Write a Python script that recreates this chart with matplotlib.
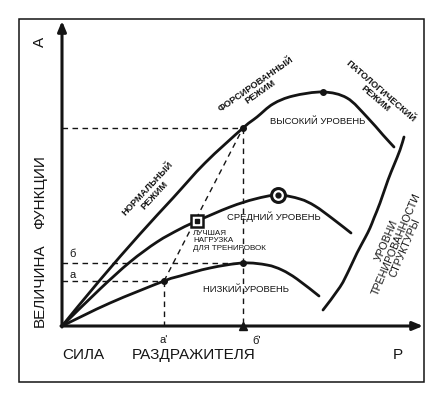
#!/usr/bin/env python3
"""
Схема: величина функции в зависимости от силы раздражителя
для трёх уровней тренированности структуры
"""

import matplotlib.pyplot as plt
from matplotlib.patches import Rectangle, PathPatch
from matplotlib.path import Path

# --- Данные (условные единицы, начало координат = начало осей) ---
high_x = [0, 38, 78, 111, 143, 181, 195, 211, 231, 261, 285, 305, 321, 332]
high_y = [0, 46, 92, 128, 163, 198, 209, 222, 230, 234, 228, 209, 191, 179]

mid_x = [0, 38, 68, 95, 118, 135, 168, 193, 216, 238, 253, 271, 289]
mid_y = [0, 37, 64, 84, 97, 105, 119, 127, 131, 127, 120, 107, 93]

low_x = [0, 48, 102, 118, 148, 181, 205, 220, 235, 257]
low_y = [0, 23, 45, 50, 58, 63, 61, 56, 47, 30]

# кривая "уровни тренированности структуры"
levels_x = [261, 278, 287, 295, 303, 308, 312, 318, 326, 332, 338, 342]
levels_y = [16, 39, 56, 73, 88, 98, 108, 123, 146, 161, 176, 189]

a_level = 45        # а
b_level = 63        # б
a_prime = 102       # а'
b_prime = 181       # б'
forced_level = 198  # граница форсированного режима
best_load = (135, 105)
mid_peak = (216, 131)
high_peak = (261, 234)

INK = '#141414'
plt.rcParams['font.family'] = ['Liberation Sans', 'DejaVu Sans']


# --- Плавная линия через точки (Catmull-Rom -> кривые Безье) ---
def smooth_path(xs, ys):
    pts = list(zip(xs, ys))
    verts = [pts[0]]
    codes = [Path.MOVETO]
    for i in range(len(pts) - 1):
        p0 = pts[i - 1] if i > 0 else pts[i]
        p1 = pts[i]
        p2 = pts[i + 1]
        p3 = pts[i + 2] if i + 2 < len(pts) else pts[i + 1]
        c1 = (p1[0] + (p2[0] - p0[0]) / 6, p1[1] + (p2[1] - p0[1]) / 6)
        c2 = (p2[0] - (p3[0] - p1[0]) / 6, p2[1] - (p3[1] - p1[1]) / 6)
        verts += [c1, c2, p2]
        codes += [Path.CURVE4] * 3
    return Path(verts, codes)


fig = plt.figure(figsize=(4.38, 3.94), dpi=100)
ax = fig.add_axes([0, 0, 1, 1])
ax.set_xlim(-62, 376)
ax.set_ylim(-68, 326)
ax.axis('off')

# рамка
ax.add_patch(Rectangle((19 / 438, 12 / 394), 405 / 438, 363 / 394,
                       transform=ax.transAxes, fill=False, lw=1.1, ec=INK))

# оси со стрелками
arrow = dict(arrowstyle='-|>,head_length=0.6,head_width=0.25', lw=2.2, color=INK,
             shrinkA=0, shrinkB=0)
ax.annotate('', xy=(0, 305), xytext=(0, -1), arrowprops=arrow)
ax.annotate('', xy=(361, 0), xytext=(-1, 0), arrowprops=arrow)

# пунктирные линии
dash = dict(color=INK, lw=1.0, dashes=(4, 3.2))
ax.plot([0, b_prime], [forced_level, forced_level], **dash)
ax.plot([b_prime, b_prime], [forced_level, 0], **dash)
ax.plot([0, b_prime], [b_level, b_level], **dash)
ax.plot([0, a_prime], [a_level, a_level], **dash)
ax.plot([a_prime, a_prime], [a_level, 0], **dash)
ax.plot([a_prime, b_prime], [a_level, forced_level], **dash)

# кривые
for xs, ys in [(high_x, high_y), (mid_x, mid_y), (low_x, low_y), (levels_x, levels_y)]:
    ax.add_patch(PathPatch(smooth_path(xs, ys), fill=False, ec=INK, lw=2.0,
                           capstyle='round', joinstyle='round'))

# маркеры
ax.plot([b_prime, high_peak[0], a_prime, b_prime],
        [forced_level, high_peak[1], a_level, b_level], 'o', color=INK, ms=4)
ax.plot(*mid_peak, 'o', ms=10, mfc='white', mec=INK, mew=2.2)
ax.plot(*mid_peak, 'o', ms=3.5, color=INK)
ax.plot(*best_load, 's', ms=8, mfc='white', mec=INK, mew=1.8)
ax.plot(*best_load, 's', ms=3.5, color=INK)
ax.plot(b_prime, 0, '^', ms=6, color=INK, clip_on=False)

# подписи осей
big = dict(fontsize=11, color=INK)
ax.text(-22, 41, 'ВЕЛИЧИНА', rotation=90, ha='center', va='center', **big)
ax.text(-22, 134, 'ФУНКЦИИ', rotation=90, ha='center', va='center', **big)
ax.text(-22, 284, 'А', rotation=90, ha='center', va='center', **big)
ax.text(21, -29, 'СИЛА', ha='center', va='center', **big)
ax.text(132, -29, 'РАЗДРАЖИТЕЛЯ', ha='center', va='center', **big)
ax.text(336, -29, 'Р', ha='center', va='center', **big)

small = dict(fontsize=8, color=INK, ha='center', va='center')
ax.text(11, 72, 'б', **small)
ax.text(11, 51, 'а', **small)
ax.text(102, -14, "а'", **small)
ax.text(195, -15, "б'", **small)

# режимы
mode = dict(fontsize=6.7, fontweight='bold', color=INK, ha='center', va='center',
            rotation_mode='anchor', multialignment='center', linespacing=1.0)
ax.text(89, 134, 'НОРМАЛЬНЫЙ\nРЕЖИМ', rotation=47, **mode)
ax.text(196, 238, 'ФОРСИРОВАННЫЙ\nРЕЖИМ', rotation=35, **mode)
ax.text(316, 231, 'ПАТОЛОГИЧЕСКИЙ\nРЕЖИМ', rotation=-41, **mode)

# уровни
lvl = dict(fontsize=6.8, color=INK, ha='center', va='center')
ax.text(256, 204, 'ВЫСОКИЙ УРОВЕНЬ', **lvl)
ax.text(212, 109, 'СРЕДНИЙ УРОВЕНЬ', **lvl)
ax.text(184, 37, 'НИЗКИЙ УРОВЕНЬ', **lvl)
ax.text(131, 96, 'ЛУЧШАЯ\nНАГРУЗКА\nДЛЯ ТРЕНИРОВОК', fontsize=5.8, color=INK,
        ha='left', va='top', linespacing=1.05)
ax.text(334, 82, 'УРОВНИ\nТРЕНИРОВАННОСТИ\nСТРУКТУРЫ', rotation=67, fontsize=7.7,
        color=INK, ha='center', va='center', rotation_mode='anchor',
        multialignment='center', linespacing=1.0)

fig.savefig('out.png', dpi=100, facecolor='white')
